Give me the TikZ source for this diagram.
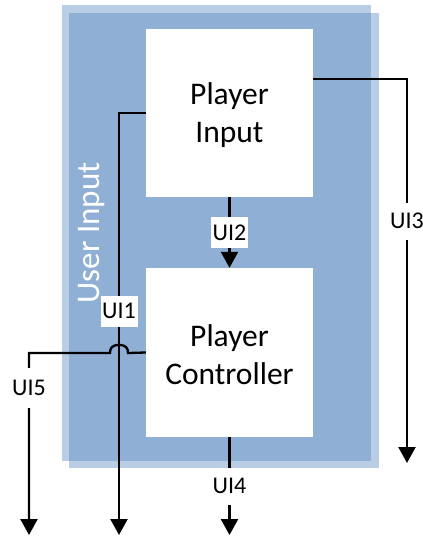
\documentclass[tikz,border=0pt]{standalone}
\usepackage{fontspec}
\setmainfont{Carlito}
\usetikzlibrary{arrows.meta}
\definecolor{lightblue}{RGB}{185,205,229}
\definecolor{darkblue}{RGB}{143,176,212}
\tikzset{
  box/.style={fill=white, minimum width=167pt, minimum height=168pt, inner sep=0pt, align=center, font=\fontsize{31.5}{38}\selectfont},
  conn/.style={line width=2.3pt, -{Triangle[length=16pt,width=17pt]}},
  lbl/.style={fill=white, inner sep=0pt, minimum width=37pt, minimum height=31pt, font=\fontsize{24}{28}\selectfont},
  lblw/.style={lbl, minimum height=37pt}
}
\begin{document}
\begin{tikzpicture}[x=1pt,y=-1pt]
\useasboundingbox (0,0) rectangle (423,539);
% background group
\fill[lightblue] (62,5) rectangle (371,461);
\fill[lightblue] (69,13) rectangle (379,468);
\fill[darkblue] (69,13) rectangle (371,461);
\node[white, rotate=90, font=\fontsize{33}{38}\selectfont] (ui) at (92,233) {User Input};
% boxes
\node[box] (pi) at (229.5,113) {};
\node[box, minimum height=169pt] (pc) at (229.5,352.5) {};
\node[align=center, font=\fontsize{31.5}{38}\selectfont] (pit) at (229.5,115) {Player\\Input};
\node[align=center, font=\fontsize{31.5}{38}\selectfont] (pct) at (229.5,355) {Player\\Controller};
% end coordinates
\coordinate (e1) at (119,535);
\coordinate (e3) at (407,463);
\coordinate (e4) at (229.5,535);
\coordinate (e5) at (29,535);
\coordinate (s3) at (313,79);
% connectors
\draw[conn] (pi.west) -| (e1);
\draw[conn] (pi.south) -- (pc.north);
\draw[conn] (s3) -| (e3);
\draw[conn] (pc.south) -- (e4);
\draw[conn] (pc.west) -- (128,353) .. controls (128,348) and (126,345) .. (119,345) .. controls (112,345) and (110,348) .. (110,353) -| (e5);
% labels
\node[lbl] (l1) at (119,311) {UI1};
\node[lbl] (l2) at (229.5,232.5) {UI2};
\node[lblw] (l3) at (407,221) {UI3};
\node[lblw] (l4) at (229.5,486) {UI4};
\node[lblw, minimum height=40pt] (l5) at (29,388) {UI5};
\end{tikzpicture}
\end{document}
